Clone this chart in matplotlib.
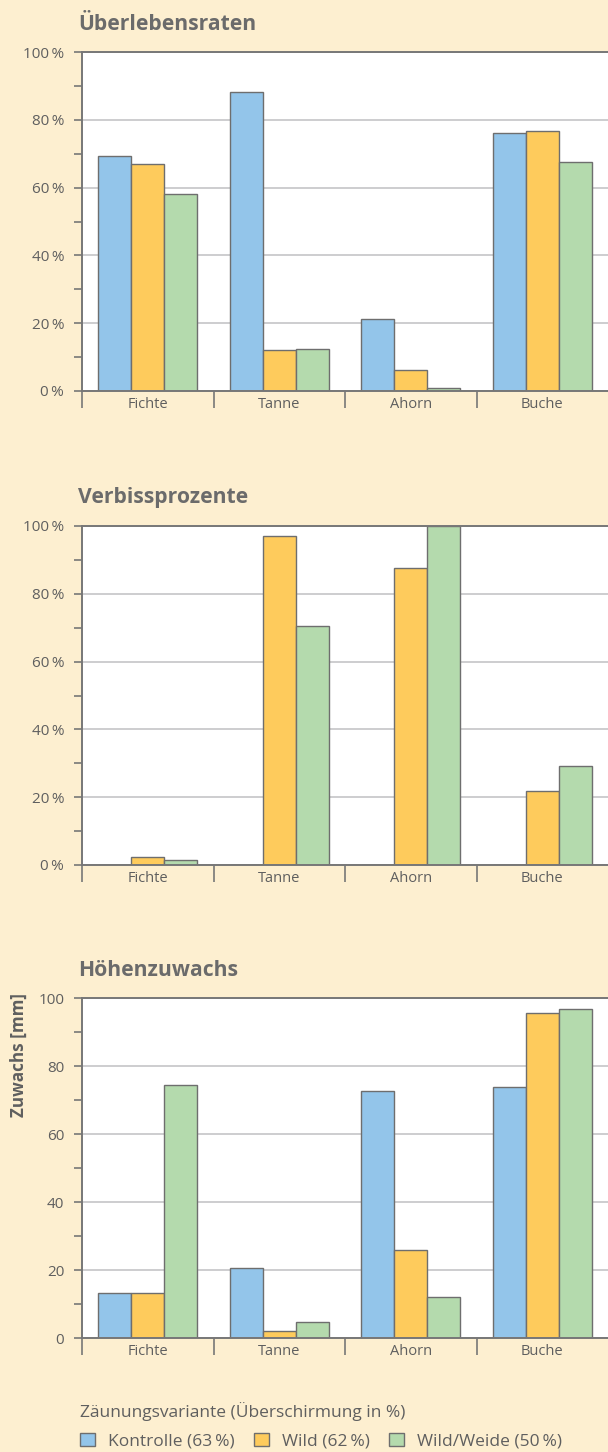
import matplotlib
matplotlib.use("Agg")
import matplotlib.pyplot as plt
from matplotlib.patches import Patch
from matplotlib.ticker import MultipleLocator, FixedLocator, FuncFormatter
import numpy as np

plt.rcParams['font.family'] = ['Open Sans', 'DejaVu Sans']

categories = ["Fichte", "Tanne", "Ahorn", "Buche"]
series_names = ["Kontrolle (63\u2009%)", "Wild (62\u2009%)", "Wild/Weide (50\u2009%)"]
legend_title = "Zäunungsvariante (Überschirmung in %)"

# Überlebensraten (%)
surv_kontrolle = [69.3, 88.2, 21.3, 76.1]
surv_wild = [66.9, 12.1, 6.3, 76.7]
surv_weide = [58.0, 12.3, 0.8, 67.6]

# Verbissprozente (%)
verb_kontrolle = [0.0, 0.0, 0.0, 0.0]
verb_wild = [2.4, 97.0, 87.5, 21.8]
verb_weide = [1.5, 70.5, 100.0, 29.2]

# Höhenzuwachs (mm)
hz_kontrolle = [13.3, 20.6, 72.6, 73.8]
hz_wild = [13.1, 2.0, 25.9, 95.6]
hz_weide = [74.4, 4.6, 12.0, 96.8]

panel_titles = ["Überlebensraten", "Verbissprozente", "Höhenzuwachs"]
y_label_3 = "Zuwachs [mm]"

BG = "#FDEFD0"
COLORS = ["#93C5EA", "#FECB5C", "#B4DAAD"]
EDGE = "#6E6E6E"
TXT = "#5F5F5F"
SPINE = "#777777"
GRID = "#C9C9CC"

W, H = 608, 1452
fig = plt.figure(figsize=(W / 100, H / 100), dpi=100, facecolor=BG)

def frac_rect(top_px, bottom_px, left_px=82, right_px=608):
    return [left_px / W, 1 - bottom_px / H, (right_px - left_px) / W, (bottom_px - top_px) / H]

panels = [
    (panel_titles[0], [surv_kontrolle, surv_wild, surv_weide], True, (52, 391), 30),
    (panel_titles[1], [verb_kontrolle, verb_wild, verb_weide], True, (526, 865), 503),
    (panel_titles[2], [hz_kontrolle, hz_wild, hz_weide], False, (998, 1338), 976),
]

x = np.arange(len(categories))
bw = 0.25
for title, data, pct, (top, bot), title_y in panels:
    ax = fig.add_axes(frac_rect(top, bot))
    ax.set_facecolor("white")
    for i, vals in enumerate(data):
        ax.bar(x + (i - 1) * bw, vals, width=bw, color=COLORS[i], edgecolor=EDGE,
               linewidth=1.0, zorder=3)
    ax.set_xlim(-0.5, 3.5)
    ax.set_ylim(0, 100)
    ax.yaxis.set_major_locator(MultipleLocator(20))
    ax.yaxis.set_minor_locator(MultipleLocator(10))
    if pct:
        ax.yaxis.set_major_formatter(FuncFormatter(lambda v, p: f"{int(v)}\u2009%"))
    else:
        ax.yaxis.set_major_formatter(FuncFormatter(lambda v, p: f"{int(v)}"))
    ax.grid(axis='y', which='major', color=GRID, linewidth=1.3, zorder=0)
    ax.tick_params(axis='y', which='both', direction='out', length=5.8, width=1.2,
                   color=SPINE, labelsize=11, labelcolor=TXT, pad=7.0)
    ax.xaxis.set_major_locator(FixedLocator([-0.5, 0.5, 1.5, 2.5]))
    ax.xaxis.set_major_formatter(FuncFormatter(lambda v, p: ""))
    ax.xaxis.set_minor_locator(FixedLocator(list(x)))
    ax.set_xticklabels(categories, minor=True)
    ax.tick_params(axis='x', which='major', direction='out', length=12, width=1.2, color=SPINE)
    ax.tick_params(axis='x', which='minor', length=0, labelsize=10.5, labelcolor=TXT, pad=4)
    for s in ['left', 'bottom', 'top']:
        ax.spines[s].set_color(SPINE)
        ax.spines[s].set_linewidth(1.4)
        ax.spines[s].set_zorder(4)
    ax.spines['right'].set_visible(False)
    fig.text(78 / W, 1 - title_y / H, title, fontsize=15.2, fontweight='bold', color="#6B6B6B",
             ha='left', va='baseline')

fig.text(19 / W, 1 - 1055 / H, y_label_3, rotation=90, fontsize=12.3, fontweight='bold',
         color=TXT, ha='center', va='center')

fig.text(80 / W, 1 - 1412 / H, legend_title, fontsize=12.5, color=TXT, ha='left', va='center')

handles = [Patch(facecolor=c, edgecolor=EDGE, linewidth=1.0) for c in COLORS]
leg = fig.legend(handles, series_names, loc='center left',
                 bbox_to_anchor=(80 / W, 1 - 1441 / H), ncol=3, frameon=False,
                 fontsize=12.5, handlelength=0.86, handleheight=0.86, handletextpad=0.75,
                 columnspacing=1.1, borderpad=0, borderaxespad=0, labelspacing=0)
for t in leg.get_texts():
    t.set_color(TXT)

fig.savefig("out.png", dpi=100, facecolor=BG)
